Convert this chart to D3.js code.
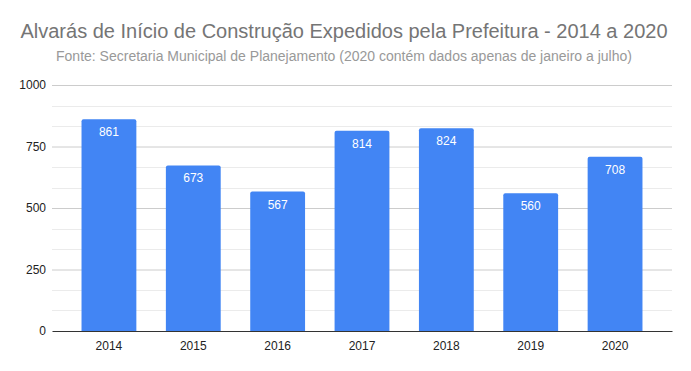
<!doctype html>
<html>
  <head>
    <meta charset="utf8">
    <script src="https://d3js.org/d3.v7.min.js"></script>
    <style type="text/css">
      body { margin: 0; background: #fff; font-family: Arial, 'Liberation Sans', sans-serif; }
    </style>
  </head>
  <body>
    <script type="text/javascript">
      const w = 691;
      const h = 371;
      const margin = {top: 85, right: 19, bottom: 40, left: 52};

      const years = ['2014', '2015', '2016', '2017', '2018', '2019', '2020'];
      const alvaras = [861, 673, 567, 814, 824, 560, 708];
      const yTicks = [0, 250, 500, 750, 1000];

      const title = 'Alvarás de Início de Construção Expedidos pela Prefeitura - 2014 a 2020';
      const subtitle = 'Fonte: Secretaria Municipal de Planejamento (2020 contém dados apenas de janeiro a julho)';

      const svg = d3.select('body')
        .append('svg')
        .attr('width', w)
        .attr('height', h);

      const xScale = d3.scaleBand()
        .domain(years)
        .range([margin.left, w - margin.right])
        .paddingInner(0.35)
        .paddingOuter(0.35);

      const yScale = d3.scaleLinear()
        .domain([0, 1000])
        .range([h - margin.bottom, margin.top]);

      // minor gridlines (3 per major step)
      const minor = d3.range(0, 1000, 250 / 3).filter((v, i) => i % 3 !== 0);
      svg.append('g')
        .selectAll('line')
        .data(minor)
        .enter()
        .append('line')
        .attr('x1', margin.left)
        .attr('x2', w - margin.right)
        .attr('y1', (d) => Math.round(yScale(d)) + 0.5)
        .attr('y2', (d) => Math.round(yScale(d)) + 0.5)
        .attr('stroke', '#ebebeb');

      const yAxis = svg.append('g')
        .attr('transform', `translate(${margin.left},0)`)
        .call(d3.axisLeft(yScale).tickValues(yTicks).tickFormat(d3.format('d'))
          .tickSize(-(w - margin.left - margin.right)).tickPadding(6));
      yAxis.select('.domain').remove();
      yAxis.selectAll('.tick line')
        .attr('stroke', (d) => d === 0 ? 'none' : '#cccccc');
      yAxis.selectAll('.tick text')
        .attr('fill', '#222')
        .attr('font-size', '12px')
        .attr('font-family', 'Arial, Liberation Sans, sans-serif');

      svg.selectAll('path.bar')
        .data(alvaras)
        .enter()
        .append('path')
        .attr('class', 'bar')
        .attr('fill', '#4285f4')
        .attr('d', (d, i) => {
          const x0 = xScale(years[i]);
          const x1 = x0 + xScale.bandwidth();
          const y0 = yScale(0);
          const y1 = yScale(d);
          const r = 2;
          return `M${x0},${y0}V${y1 + r}Q${x0},${y1} ${x0 + r},${y1}H${x1 - r}Q${x1},${y1} ${x1},${y1 + r}V${y0}Z`;
        });

      svg.selectAll('text.value')
        .data(alvaras)
        .enter()
        .append('text')
        .attr('class', 'value')
        .attr('x', (d, i) => xScale(years[i]) + xScale.bandwidth() / 2)
        .attr('y', (d) => yScale(d) + 17)
        .attr('text-anchor', 'middle')
        .attr('fill', '#fff')
        .attr('font-size', '12px')
        .text((d) => d);

      const xAxis = svg.append('g')
        .attr('transform', `translate(0,${yScale(0)})`)
        .call(d3.axisBottom(xScale).tickSize(0).tickPadding(10));
      xAxis.select('.domain').attr('stroke', '#333');
      xAxis.selectAll('.tick text')
        .attr('fill', '#222')
        .attr('font-size', '12px')
        .attr('font-family', 'Arial, Liberation Sans, sans-serif');

      svg.append('text')
        .attr('x', 344)
        .attr('y', 38)
        .attr('text-anchor', 'middle')
        .attr('fill', '#757575')
        .attr('font-size', '20px')
        .text(title);

      svg.append('text')
        .attr('x', 344)
        .attr('y', 61)
        .attr('text-anchor', 'middle')
        .attr('fill', '#999')
        .attr('font-size', '14px')
        .text(subtitle);
    </script>
  </body>
</html>
